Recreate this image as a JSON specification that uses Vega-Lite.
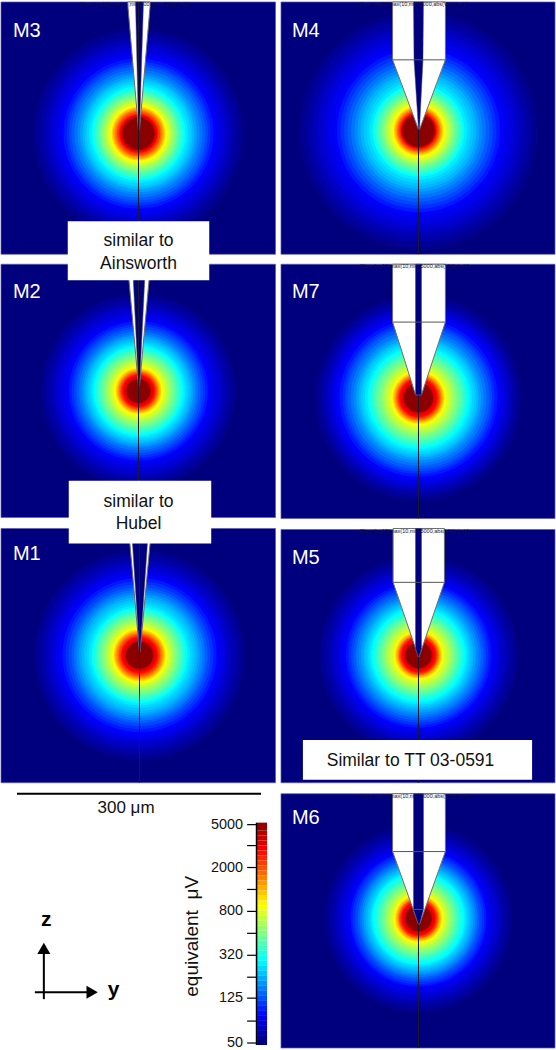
{
"$schema":"https://vega.github.io/schema/vega-lite/v6.json",
"width":556,"height":1050,"padding":0,
"autosize":{"type":"fit","contains":"padding"},
"background":"white",
"config":{"view":{"stroke":null},"text":{"font":"Liberation Sans"}},
"datasets":{
"panels":[
{"panel":"M3","x0":0,"x1":275.5,"y0":0,"y1":253,"cx":138,"cy":132,"lx":12,"ly":35,"line0":0,"line1":253,"tx":134,"ty":2},
{"panel":"M4","x0":281,"x1":556,"y0":0,"y1":253,"cx":419,"cy":129,"lx":292,"ly":35,"line0":128,"line1":253,"tx":414,"ty":2},
{"panel":"M2","x0":0,"x1":275.5,"y0":263,"y1":517,"cx":138,"cy":390,"lx":12,"ly":297,"line0":279,"line1":517},
{"panel":"M7","x0":281,"x1":556,"y0":263,"y1":518,"cx":419,"cy":397,"lx":292,"ly":297,"line0":394,"line1":518,"tx":415,"ty":265},
{"panel":"M1","x0":0,"x1":275.5,"y0":528,"y1":783,"cx":139,"cy":655,"lx":12,"ly":560,"line0":543,"line1":783},
{"panel":"M5","x0":281,"x1":556,"y0":529,"y1":783,"cx":419,"cy":655,"lx":292,"ly":564,"line0":657,"line1":783,"tx":415,"ty":531},
{"panel":"M6","x0":281,"x1":556,"y0":794,"y1":1049,"cx":419,"cy":919,"lx":292,"ly":824,"line0":925,"line1":1049,"tx":415,"ty":796}
],
"rings":[
{"uV":50,"M3":108,"M4":123,"M2":100,"M7":105,"M1":108,"M5":102,"M6":96},
{"uV":53,"M3":105,"M4":119,"M2":97,"M7":103,"M1":105,"M5":99,"M6":94},
{"uV":56,"M3":102,"M4":115,"M2":95,"M7":100,"M1":103,"M5":97,"M6":91},
{"uV":60,"M3":98,"M4":111,"M2":91,"M7":97,"M1":99,"M5":93,"M6":88},
{"uV":65,"M3":94,"M4":106,"M2":87,"M7":94,"M1":95,"M5":89,"M6":84},
{"uV":70,"M3":90,"M4":101,"M2":84,"M7":91,"M1":91,"M5":86,"M6":81},
{"uV":76,"M3":86,"M4":96,"M2":80,"M7":88,"M1":87,"M5":82,"M6":77},
{"uV":82,"M3":82,"M4":91,"M2":76,"M7":85,"M1":84,"M5":79,"M6":74},
{"uV":89,"M3":78,"M4":85,"M2":72,"M7":82,"M1":80,"M5":75,"M6":70},
{"uV":99,"M3":75,"M4":81.5,"M2":69.5,"M7":79,"M1":77,"M5":72.5,"M6":68},
{"uV":110,"M3":72,"M4":78,"M2":67,"M7":76,"M1":74,"M5":70,"M6":66},
{"uV":122,"M3":69.5,"M4":74.5,"M2":64.5,"M7":73.5,"M1":71,"M5":67.5,"M6":63.5},
{"uV":135,"M3":67,"M4":71,"M2":62,"M7":71,"M1":68,"M5":65,"M6":61},
{"uV":150,"M3":64,"M4":67.5,"M2":59.5,"M7":68,"M1":65.5,"M5":62.5,"M6":59},
{"uV":165,"M3":61,"M4":64,"M2":57,"M7":65,"M1":63,"M5":60,"M6":57},
{"uV":182,"M3":58.5,"M4":61,"M2":55,"M7":62.5,"M1":60.5,"M5":57.5,"M6":55},
{"uV":200,"M3":56,"M4":58,"M2":53,"M7":60,"M1":58,"M5":55,"M6":53},
{"uV":217,"M3":54,"M4":55,"M2":51,"M7":58,"M1":55.5,"M5":53,"M6":51},
{"uV":235,"M3":52,"M4":52,"M2":49,"M7":56,"M1":53,"M5":51,"M6":49},
{"uV":257,"M3":49.5,"M4":49,"M2":47,"M7":53.5,"M1":50.5,"M5":49,"M6":47.5},
{"uV":281,"M3":47,"M4":46,"M2":45,"M7":51,"M1":48,"M5":47,"M6":46},
{"uV":310,"M3":45.5,"M4":44.5,"M2":43.5,"M7":49,"M1":46.5,"M5":45,"M6":44},
{"uV":340,"M3":44,"M4":43,"M2":42,"M7":47,"M1":45,"M5":43,"M6":42},
{"uV":380,"M3":42,"M4":41,"M2":40,"M7":45,"M1":43,"M5":41,"M6":40},
{"uV":420,"M3":40,"M4":39,"M2":38,"M7":43,"M1":41,"M5":39,"M6":38},
{"uV":470,"M3":38.5,"M4":37,"M2":36,"M7":40.5,"M1":39,"M5":37,"M6":36},
{"uV":520,"M3":37,"M4":35,"M2":34,"M7":38,"M1":37,"M5":35,"M6":34},
{"uV":580,"M3":35,"M4":33.5,"M2":32,"M7":36,"M1":35,"M5":33,"M6":32},
{"uV":640,"M3":33,"M4":32,"M2":30,"M7":34,"M1":33,"M5":31,"M6":30},
{"uV":700,"M3":32,"M4":30.5,"M2":28.5,"M7":32,"M1":31.5,"M5":29,"M6":28.5},
{"uV":760,"M3":31,"M4":29,"M2":27,"M7":30,"M1":30,"M5":27.5,"M6":27},
{"uV":825,"M3":29.5,"M4":27.5,"M2":25.5,"M7":28.5,"M1":28.5,"M5":25.5,"M6":25.5},
{"uV":889,"M3":28,"M4":26,"M2":24,"M7":27,"M1":27,"M5":24,"M6":24},
{"uV":1000,"M3":27,"M4":25,"M2":23,"M7":26,"M1":26,"M5":23.5,"M6":23.5},
{"uV":1100,"M3":26.5,"M4":24.5,"M2":22.5,"M7":25.5,"M1":25.5,"M5":23,"M6":23},
{"uV":1220,"M3":25.5,"M4":23.5,"M2":21.5,"M7":24.5,"M1":24.5,"M5":22,"M6":22},
{"uV":1350,"M3":25,"M4":23,"M2":21,"M7":24,"M1":24,"M5":21.5,"M6":21.5},
{"uV":1520,"M3":24,"M4":22,"M2":20,"M7":23,"M1":23,"M5":20.5,"M6":20.5},
{"uV":1700,"M3":23,"M4":21.5,"M2":19.5,"M7":22.5,"M1":22,"M5":20,"M6":20},
{"uV":1900,"M3":22,"M4":20.5,"M2":18.5,"M7":21.5,"M1":21,"M5":19.5,"M6":19.5},
{"uV":2100,"M3":21.5,"M4":20,"M2":18,"M7":21,"M1":20.5,"M5":19,"M6":19},
{"uV":2450,"M3":20,"M4":19,"M2":17,"M7":20,"M1":19,"M5":18,"M6":18},
{"uV":2812,"M3":19,"M4":18,"M2":16,"M7":19,"M1":18,"M5":17,"M6":17},
{"uV":3200,"M3":18,"M4":17.5,"M2":14.5,"M7":17,"M1":16,"M5":15,"M6":15.5},
{"uV":3600,"M3":17,"M4":17,"M2":13,"M7":15.5,"M1":14.5,"M5":14,"M6":14},
{"uV":5000,"M3":16,"M4":16,"M2":12,"M7":14.5,"M1":13.5,"M5":13,"M6":13}
],
"body":[
{"panel":"M3","z":0,"l":127,"r":150},{"panel":"M3","z":128,"l":138,"r":139},
{"panel":"M2","z":263,"l":127,"r":150},{"panel":"M2","z":385,"l":138,"r":139},
{"panel":"M1","z":528,"l":128,"r":151},{"panel":"M1","z":652,"l":139,"r":139.5},
{"panel":"M4","z":0,"l":393,"r":446},{"panel":"M4","z":58,"l":393,"r":446},{"panel":"M4","z":128,"l":419,"r":420},
{"panel":"M7","z":263,"l":393,"r":446},{"panel":"M7","z":321,"l":393,"r":446},{"panel":"M7","z":394,"l":416,"r":422},
{"panel":"M5","z":528,"l":393.5,"r":445},{"panel":"M5","z":582,"l":393.5,"r":445},{"panel":"M5","z":657,"l":419,"r":419.5},
{"panel":"M6","z":794,"l":393,"r":446},{"panel":"M6","z":852,"l":393,"r":446},{"panel":"M6","z":925,"l":419,"r":420}
],
"bore":[
{"panel":"M3","z":0,"l":135,"r":143},{"panel":"M3","z":128,"l":138,"r":139},
{"panel":"M2","z":263,"l":132,"r":145},{"panel":"M2","z":385,"l":138,"r":139},
{"panel":"M1","z":528,"l":131,"r":148},{"panel":"M1","z":652,"l":139,"r":139.5},
{"panel":"M4","z":0,"l":414,"r":424},{"panel":"M4","z":58,"l":414.5,"r":423.5},{"panel":"M4","z":128,"l":419,"r":420},
{"panel":"M7","z":263,"l":416,"r":422},{"panel":"M7","z":394,"l":416,"r":422},
{"panel":"M5","z":528,"l":416,"r":422},{"panel":"M5","z":648,"l":416,"r":422},{"panel":"M5","z":657,"l":419,"r":419.5},
{"panel":"M6","z":794,"l":414,"r":424},{"panel":"M6","z":910,"l":414,"r":424},{"panel":"M6","z":925,"l":419,"r":420}
],
"shoulders":[
{"z":58,"l":393,"r":446},{"z":321,"l":393,"r":446},{"z":582,"l":393.5,"r":445},{"z":852,"l":393,"r":446},{"z":910,"l":414,"r":424}
],
"callouts":[
{"x0":67,"x1":209,"y0":220,"y1":279},
{"x0":68,"x1":211,"y0":480,"y1":543},
{"x0":303,"x1":533,"y0":740,"y1":780}
],
"calloutText":[
{"t":"similar to","x":138,"y":245},{"t":"Ainsworth","x":138,"y":268},
{"t":"similar to","x":138,"y":506},{"t":"Hubel","x":138,"y":529},
{"t":"Similar to TT 03-0591","x":411,"y":766}
],
"colorbar":[
{"a":1046,"b":1041,"uV":50},{"a":1041,"b":1036,"uV":55.5},{"a":1036,"b":1031,"uV":61.6},{"a":1031,"b":1026,"uV":68.4},
{"a":1026,"b":1021,"uV":75.9},{"a":1021,"b":1016,"uV":84.3},{"a":1016,"b":1011,"uV":93.6},{"a":1011,"b":1006,"uV":103.9},
{"a":1006,"b":1001,"uV":115},{"a":1001,"b":996,"uV":128},{"a":996,"b":991,"uV":142},{"a":991,"b":986,"uV":158},
{"a":986,"b":981,"uV":175},{"a":981,"b":976,"uV":194},{"a":976,"b":971,"uV":216},{"a":971,"b":966,"uV":240},
{"a":966,"b":961,"uV":266},{"a":961,"b":956,"uV":295},{"a":956,"b":951,"uV":328},{"a":951,"b":946,"uV":364},
{"a":946,"b":941,"uV":404},{"a":941,"b":936,"uV":448},{"a":936,"b":931,"uV":498},{"a":931,"b":926,"uV":552},
{"a":926,"b":921,"uV":613},{"a":921,"b":916,"uV":681},{"a":916,"b":911,"uV":756},{"a":911,"b":906,"uV":839},
{"a":906,"b":901,"uV":931},{"a":901,"b":896,"uV":1034},{"a":896,"b":891,"uV":1148},{"a":891,"b":886,"uV":1274},
{"a":886,"b":881,"uV":1414},{"a":881,"b":876,"uV":1570},{"a":876,"b":871,"uV":1743},{"a":871,"b":866,"uV":1935},
{"a":866,"b":861,"uV":2148},{"a":861,"b":856,"uV":2384},{"a":856,"b":851,"uV":2647},{"a":851,"b":846,"uV":2938},
{"a":846,"b":841,"uV":3262},{"a":841,"b":836,"uV":3621},{"a":836,"b":831,"uV":4019},{"a":831,"b":823,"uV":4700}
],
"ticks":[
{"z":825,"t":"5000"},{"z":846,"t":""},{"z":868,"t":"2000"},{"z":890,"t":""},{"z":912,"t":"800"},{"z":934,"t":""},
{"z":956,"t":"320"},{"z":978,"t":""},{"z":999,"t":"125"},{"z":1022,"t":""},{"z":1044,"t":"50"}
]
},
"data":{"name":"panels"},
"encoding":{},
"layer":[
{"mark":{"type":"rect","fill":"#00007f","stroke":"#5a5ab0","strokeWidth":0.7},
 "encoding":{
  "x":{"field":"x0","type":"quantitative","axis":null,"scale":{"domain":[0,556],"nice":false,"zero":false}},
  "x2":{"field":"x1"},
  "y":{"field":"y0","type":"quantitative","axis":null,"scale":{"domain":[0,1050],"reverse":true,"nice":false,"zero":false}},
  "y2":{"field":"y1"}}},
{"data":{"name":"rings"},
 "transform":[
  {"fold":["M3","M4","M2","M7","M1","M5","M6"],"as":["panel","r"]},
  {"lookup":"panel","from":{"data":{"name":"panels"},"key":"panel","fields":["cx","cy"]}}],
 "mark":{"type":"circle","opacity":1,"strokeWidth":0},
 "encoding":{
  "x":{"field":"cx","type":"quantitative"},
  "y":{"field":"cy","type":"quantitative"},
  "size":{"field":"r","type":"quantitative","legend":null,"scale":{"type":"pow","exponent":2,"domain":[0,100],"range":[0,40000]}},
  "color":{"field":"uV","type":"quantitative","legend":null,"scale":{"type":"log","interpolate":"rgb","domain":[50,89,281,889,2812,5000],"range":["#00007f","#0000ff","#00ffff","#ffff00","#ff0000","#8a0000"]}}}},
{"data":{"name":"body"},
 "mark":{"type":"area","orient":"horizontal","fill":"#ffffff","stroke":"#6e6e6e","strokeWidth":1},
 "encoding":{"y":{"field":"z","type":"quantitative"},"x":{"field":"l","type":"quantitative"},"x2":{"field":"r"},"detail":{"field":"panel"}}},
{"data":{"name":"bore"},
 "mark":{"type":"area","orient":"horizontal","fill":"#00007f","stroke":"#4a4a6a","strokeWidth":0.5},
 "encoding":{"y":{"field":"z","type":"quantitative"},"x":{"field":"l","type":"quantitative"},"x2":{"field":"r"},"detail":{"field":"panel"}}},
{"data":{"name":"shoulders"},
 "mark":{"type":"rule","stroke":"#555555","strokeWidth":1},
 "encoding":{"y":{"field":"z","type":"quantitative"},"x":{"field":"l","type":"quantitative"},"x2":{"field":"r"}}},
{"mark":{"type":"rule","stroke":"#1a1a2a","strokeWidth":1},
 "encoding":{"x":{"field":"cx","type":"quantitative"},"y":{"field":"line0","type":"quantitative"},"y2":{"field":"line1"}}},
{"transform":[{"filter":"isValid(datum.tx)"},{"calculate":"'Slice: log10(max(10,min(5000,abs(V)))) (mV)'","as":"slice"}],
 "mark":{"type":"text","fontSize":5.5,"fill":"#12123c","baseline":"middle","align":"center"},
 "encoding":{"x":{"field":"tx","type":"quantitative"},"y":{"field":"ty","type":"quantitative"},"text":{"field":"slice"}}},
{"mark":{"type":"text","fontSize":20,"fill":"#ffffff","align":"left","baseline":"alphabetic"},
 "encoding":{"x":{"field":"lx","type":"quantitative"},"y":{"field":"ly","type":"quantitative"},"text":{"field":"panel"}}},
{"data":{"name":"callouts"},
 "mark":{"type":"rect","fill":"#ffffff"},
 "encoding":{"x":{"field":"x0","type":"quantitative"},"x2":{"field":"x1"},"y":{"field":"y0","type":"quantitative"},"y2":{"field":"y1"}}},
{"data":{"name":"calloutText"},
 "mark":{"type":"text","fontSize":17.5,"fill":"#111111","align":"center","baseline":"alphabetic"},
 "encoding":{"x":{"field":"x","type":"quantitative"},"y":{"field":"y","type":"quantitative"},"text":{"field":"t"}}},
{"data":{"values":[{"a":16,"b":261,"z":794}]},
 "mark":{"type":"rule","stroke":"#000000","strokeWidth":2},
 "encoding":{"x":{"field":"a","type":"quantitative"},"x2":{"field":"b"},"y":{"field":"z","type":"quantitative"}}},
{"data":{"values":[{"x":125.5,"z":813,"t":"300 μm"}]},
 "mark":{"type":"text","fontSize":17,"fill":"#111111","align":"center","baseline":"alphabetic"},
 "encoding":{"x":{"field":"x","type":"quantitative"},"y":{"field":"z","type":"quantitative"},"text":{"field":"t"}}},
{"data":{"name":"colorbar"},
 "mark":{"type":"rect","strokeWidth":0},
 "encoding":{"x":{"datum":257},"x2":{"datum":267},"y":{"field":"a","type":"quantitative"},"y2":{"field":"b"},
  "color":{"field":"uV","type":"quantitative"}}},
{"data":{"values":[{"z0":823,"z1":1046,"x":256.5}]},
 "mark":{"type":"rule","stroke":"#000000","strokeWidth":1.6},
 "encoding":{"x":{"field":"x","type":"quantitative"},"y":{"field":"z0","type":"quantitative"},"y2":{"field":"z1"}}},
{"data":{"name":"ticks"},
 "mark":{"type":"rule","stroke":"#000000","strokeWidth":1.2},
 "encoding":{"x":{"datum":247},"x2":{"datum":257},"y":{"field":"z","type":"quantitative"}}},
{"data":{"name":"ticks"},
 "mark":{"type":"text","fontSize":14.4,"fill":"#111111","align":"right","baseline":"middle"},
 "encoding":{"x":{"datum":243},"y":{"field":"z","type":"quantitative"},"text":{"field":"t"}}},
{"data":{"values":[{"x":198,"z":937,"t":"equivalent\u00a0\u00a0μV"}]},
 "mark":{"type":"text","fontSize":19,"fill":"#111111","align":"center","baseline":"alphabetic","angle":270},
 "encoding":{"x":{"field":"x","type":"quantitative"},"y":{"field":"z","type":"quantitative"},"text":{"field":"t"}}},
{"data":{"values":[{"x":43,"z0":950,"z1":1000}]},
 "mark":{"type":"rule","stroke":"#000000","strokeWidth":2},
 "encoding":{"x":{"field":"x","type":"quantitative"},"y":{"field":"z0","type":"quantitative"},"y2":{"field":"z1"}}},
{"data":{"values":[{"a":34,"b":88,"z":993}]},
 "mark":{"type":"rule","stroke":"#000000","strokeWidth":2},
 "encoding":{"x":{"field":"a","type":"quantitative"},"x2":{"field":"b"},"y":{"field":"z","type":"quantitative"}}},
{"data":{"values":[{"x":43,"z":949}]},
 "mark":{"type":"point","shape":"triangle-up","filled":true,"fill":"#000000","opacity":1,"size":170},
 "encoding":{"x":{"field":"x","type":"quantitative"},"y":{"field":"z","type":"quantitative"}}},
{"data":{"values":[{"x":91.5,"z":993}]},
 "mark":{"type":"point","shape":"triangle-right","filled":true,"fill":"#000000","opacity":1,"size":170},
 "encoding":{"x":{"field":"x","type":"quantitative"},"y":{"field":"z","type":"quantitative"}}},
{"data":{"values":[{"x":45.5,"z":927,"t":"z"},{"x":113,"z":997,"t":"y"}]},
 "mark":{"type":"text","fontSize":21,"fontWeight":"bold","fill":"#000000","align":"center","baseline":"alphabetic"},
 "encoding":{"x":{"field":"x","type":"quantitative"},"y":{"field":"z","type":"quantitative"},"text":{"field":"t"}}}
]
}
